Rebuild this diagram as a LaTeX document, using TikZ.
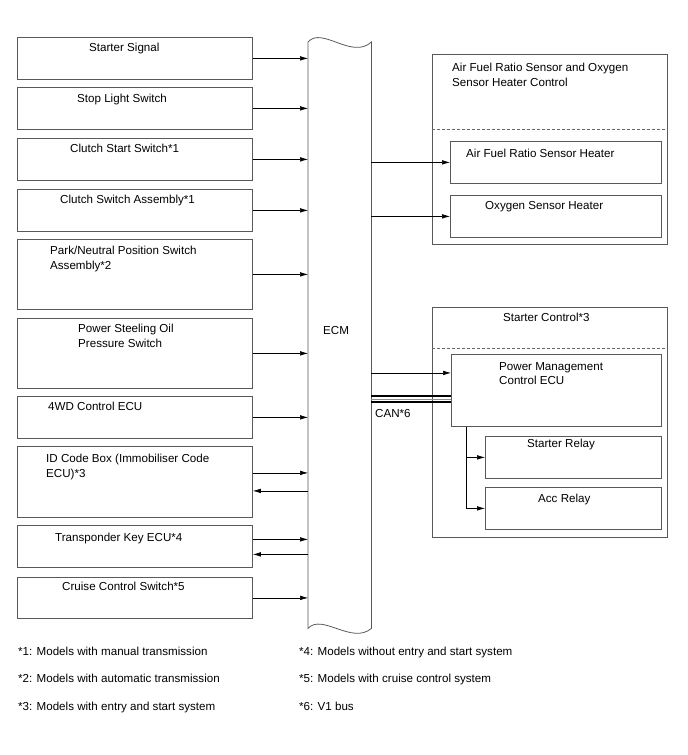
\documentclass[tikz,border=0pt]{standalone}
\usepackage{fontspec}
\setmainfont{Liberation Sans}
\usetikzlibrary{arrows.meta,calc}
\begin{document}
\begin{tikzpicture}[x=1pt,y=-1pt,
  box/.style={draw=black!65, line width=0.8pt, inner sep=0pt, anchor=north west},
  lbl/.style={font=\fontsize{11.6}{14}\selectfont, anchor=base west, inner sep=0pt},
  arr/.style={-{Latex[length=8pt,width=4.6pt]}, line width=0.6pt, black},
  sep/.style={draw=black!60, line width=0.8pt, dash pattern=on 3pt off 2pt},
]
\useasboundingbox (0,0) rectangle (688,755);

% ECM
\node[inner sep=0pt, minimum width=63pt, minimum height=586pt, anchor=north west] (ecm) at (308,42) {};
\draw[draw=black!65, line width=0.8pt]
  (ecm.north west) .. controls (322,26) and (352,60) .. (ecm.north east)
  -- (ecm.south east) .. controls (352,645) and (322,613) .. (ecm.south west) -- cycle;
\node[lbl] (ecmlbl) at (323,334) {ECM};

% left boxes
\node[box, minimum width=235pt, minimum height=42pt] (b1) at (17,37) {};
\node[box, minimum width=235pt, minimum height=42pt] (b2) at (17,87) {};
\node[box, minimum width=235pt, minimum height=42pt] (b3) at (17,138) {};
\node[box, minimum width=235pt, minimum height=42pt] (b4) at (17,189) {};
\node[box, minimum width=235pt, minimum height=70pt] (b5) at (17,239) {};
\node[box, minimum width=235pt, minimum height=70pt] (b6) at (17,318) {};
\node[box, minimum width=235pt, minimum height=42pt] (b7) at (17,396) {};
\node[box, minimum width=235pt, minimum height=71pt] (b8) at (17,446) {};
\node[box, minimum width=235pt, minimum height=42pt] (b9) at (17,525) {};
\node[box, minimum width=235pt, minimum height=41pt] (b10) at (17,577) {};

\node[lbl] (t1) at (89,51.5) {Starter Signal};
\node[lbl] (t2) at (77,102) {Stop Light Switch};
\node[lbl] (t3) at (70,152) {Clutch Start Switch*1};
\node[lbl] (t4) at (60,203) {Clutch Switch Assembly*1};
\node[lbl] (t5a) at (50,254) {Park/Neutral Position Switch};
\node[lbl] (t5b) at (50,269) {Assembly*2};
\node[lbl] (t6a) at (78,332) {Power Steeling Oil};
\node[lbl] (t6b) at (78,347) {Pressure Switch};
\node[lbl] (t7) at (48,410) {4WD Control ECU};
\node[lbl] (t8a) at (46,462) {ID Code Box (Immobiliser Code};
\node[lbl] (t8b) at (46,477) {ECU)*3};
\node[lbl] (t9) at (55,541) {Transponder Key ECU*4};
\node[lbl] (t10) at (62,590) {Cruise Control Switch*5};

% left arrows
\draw[arr] (b1.east) -- (ecm.west |- b1.east);
\draw[arr] (b2.east) -- (ecm.west |- b2.east);
\draw[arr] (b3.east) -- (ecm.west |- b3.east);
\draw[arr] (b4.east) -- (ecm.west |- b4.east);
\draw[arr] (b5.east) -- (ecm.west |- b5.east);
\draw[arr] (b6.east) -- (ecm.west |- b6.east);
\draw[arr] (b7.east) -- (ecm.west |- b7.east);
\coordinate (p8a) at ([yshift=9pt]b8.east);
\coordinate (p8b) at ([yshift=-9pt]b8.east);
\draw[arr] (p8a) -- (ecm.west |- p8a);
\draw[arr] (ecm.west |- p8b) -- (p8b);
\coordinate (p9a) at ([yshift=7pt]b9.east);
\coordinate (p9b) at ([yshift=-8pt]b9.east);
\draw[arr] (p9a) -- (ecm.west |- p9a);
\draw[arr] (ecm.west |- p9b) -- (p9b);
\draw[arr] (b10.east) -- (ecm.west |- b10.east);

% right top group
\node[box, minimum width=235pt, minimum height=190pt] (rt) at (432,54) {};
\draw[sep] (rt.west |- 0,129) coordinate (rtl) -- (rt.east |- rtl);
\node[lbl] (rtt1) at (452,71) {Air Fuel Ratio Sensor and Oxygen};
\node[lbl] (rtt2) at (452,86.5) {Sensor Heater Control};
\node[box, minimum width=211pt, minimum height=42pt] (r1) at (450,141) {};
\node[box, minimum width=211pt, minimum height=42pt] (r2) at (450,195) {};
\node[lbl] (r1t) at (466,157) {Air Fuel Ratio Sensor Heater};
\node[lbl] (r2t) at (485,209) {Oxygen Sensor Heater};
\draw[arr] (ecm.east |- r1.west) -- (r1.west);
\draw[arr] (ecm.east |- r2.west) -- (r2.west);

% right bottom group
\node[box, minimum width=235pt, minimum height=230pt] (rb) at (432,307) {};
\draw[sep] (rb.west |- 0,348) coordinate (rbl) -- (rb.east |- rbl);
\node[lbl] (rbt) at (503,321.5) {Starter Control*3};
\node[box, minimum width=210pt, minimum height=72pt] (pmc) at (451,354) {};
\node[lbl] (pmct1) at (499,370) {Power Management};
\node[lbl] (pmct2) at (499,384) {Control ECU};
\node[box, minimum width=176pt, minimum height=42pt] (sr) at (485,436) {};
\node[box, minimum width=176pt, minimum height=42pt] (ar) at (485,487) {};
\node[lbl] (srt) at (527,447.5) {Starter Relay};
\node[lbl] (art) at (538,502) {Acc Relay};

\coordinate (pm1) at ($(pmc.north west)!0.26!(pmc.south west)$);
\draw[arr] (ecm.east |- pm1) -- (pm1);
\coordinate (can) at ($(pmc.north west)!0.62!(pmc.south west)$);
\draw[line width=1.8pt] ([yshift=3pt]ecm.east |- can) -- ([yshift=3pt]can);
\draw[line width=1.8pt] ([yshift=-3pt]ecm.east |- can) -- ([yshift=-3pt]can);
\draw[line width=0.6pt, black!45] (ecm.east |- can) -- (can);
\node[lbl] (canl) at (375,417) {CAN*6};

\coordinate (br) at ([xshift=15pt]pmc.south west);
\draw[arr] (br) |- (sr.west);
\draw[arr] (br) |- (ar.west);

% footnotes
\node[lbl] (f1) at (18,655) {*1: Models with manual transmission};
\node[lbl] (f2) at (18,682) {*2: Models with automatic transmission};
\node[lbl] (f3) at (18,710) {*3: Models with entry and start system};
\node[lbl] (f4) at (299,655) {*4: Models without entry and start system};
\node[lbl] (f5) at (299,682) {*5: Models with cruise control system};
\node[lbl] (f6) at (299,710) {*6: V1 bus};
\end{tikzpicture}
\end{document}
